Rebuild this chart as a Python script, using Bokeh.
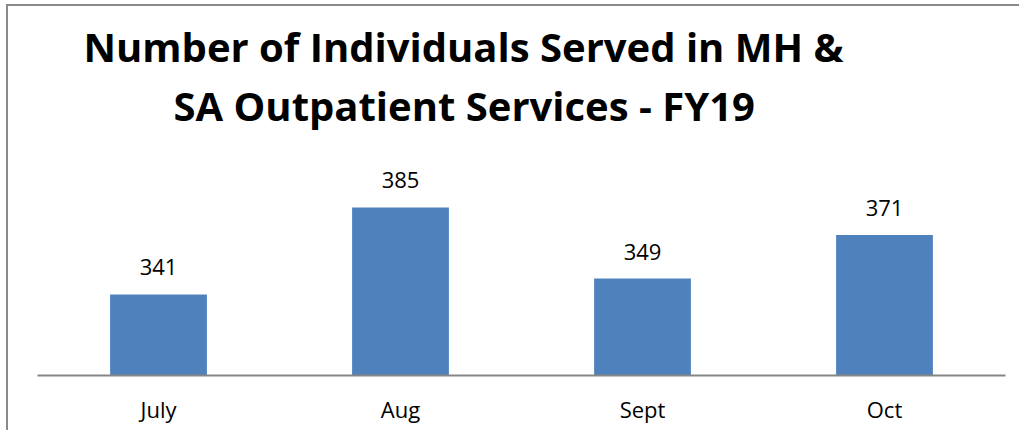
from bokeh.plotting import figure
from bokeh.models import Range1d, Title, ColumnDataSource, LabelSet
from bokeh.core.properties import value
from bokeh.embed import file_html
from bokeh.resources import INLINE

months = ["July", "Aug", "Sept", "Oct"]
served = [341, 385, 349, 371]
title_lines = ["Number of Individuals Served in MH &", "SA Outpatient Services - FY19"]

FONT = "Open Sans"
BAR = "#4F81BD"
GRAY = "#868686"

src = ColumnDataSource(dict(m=months, v=served, t=[str(v) for v in served]))

p = figure(x_range=months, y_range=Range1d(300, 422.9), width=1013, height=426,
           output_backend="svg", toolbar_location=None,
           min_border_left=29, min_border_right=16, min_border_bottom=57, min_border_top=126)
p.margin = (4, 0, 0, 6)
p.styles = {"border-top": "2px solid #8a8a8a", "border-left": "2px solid #8a8a8a"}

p.vbar(x="m", top="v", bottom=300, width=0.4, source=src, color=BAR, line_color=None)
p.add_layout(LabelSet(x="m", y="v", text="t", source=src, text_align="center",
                      text_baseline="alphabetic", y_offset=19, text_font=value(FONT),
                      text_font_size="22px", text_color="black"))

p.yaxis.visible = False
p.grid.visible = False
p.outline_line_color = None
p.xaxis.axis_line_color = GRAY
p.xaxis.axis_line_width = 2
p.xaxis.major_tick_line_color = None
p.xaxis.minor_tick_line_color = None
p.xaxis.major_label_text_font = FONT
p.xaxis.major_label_text_font_size = "22px"
p.xaxis.major_label_text_color = "black"
p.xaxis.major_label_standoff = 12

p.add_layout(Title(text=title_lines[1], align="left", offset=136, text_font=FONT,
                   text_font_style="bold", text_font_size="40px", text_color="black",
                   standoff=0), "above")
p.add_layout(Title(text=title_lines[0], align="left", offset=46, text_font=FONT,
                   text_font_style="bold", text_font_size="40px", text_color="black",
                   standoff=4), "above")

open("out.html", "w").write(file_html(p, INLINE))
